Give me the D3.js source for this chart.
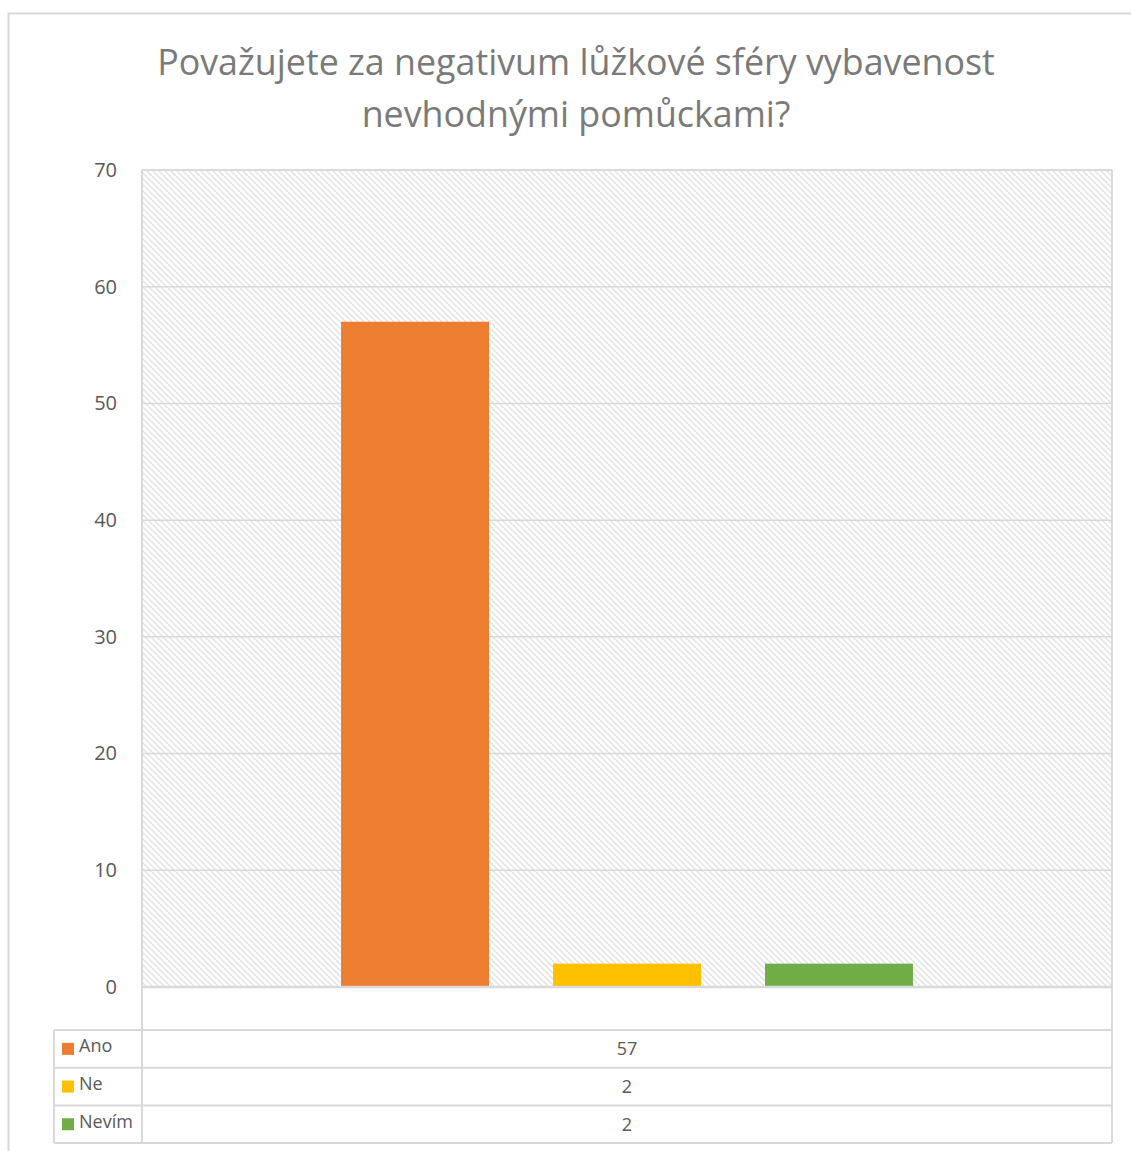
<!DOCTYPE html>
<html>
<head>
<meta charset="utf-8">
<script src="https://cdn.jsdelivr.net/npm/d3@7/dist/d3.min.js"></script>
<style>
  html, body { margin: 0; padding: 0; background: #ffffff; }
  svg { display: block; }
  text { font-family: "Open Sans", "Noto Sans", sans-serif; }
</style>
</head>
<body>
<svg id="chart" width="1131" height="1151"></svg>
<script>
// Survey answers
const titleLines = ["Považujete za negativum lůžkové sféry vybavenost", "nevhodnými pomůckami?"];
const seriesNames = ["Ano", "Ne", "Nevím"];
const seriesValues = [57, 2, 2];
const seriesColors = ["#ED7D31", "#FFC000", "#70AD47"];
const yTicks = [0, 10, 20, 30, 40, 50, 60, 70];

const svg = d3.select("#chart");
const grid = "#d9d9d9";

// plot frame
const plot = { left: 142, right: 1112, top: 170, bottom: 987 };
const table = { left: 54, rowTop: 1030, rowH: 37.7 };

const defs = svg.append("defs");
const pat = defs.append("pattern")
  .attr("id", "hatch")
  .attr("patternUnits", "userSpaceOnUse")
  .attr("width", 6).attr("height", 6);
pat.append("rect").attr("width", 6).attr("height", 6).attr("fill", "#ffffff");
pat.append("path")
  .attr("d", "M0,0 L6,6 M-3,3 L3,9 M3,-3 L9,3")
  .attr("stroke", "#e2e2e2").attr("stroke-width", 1.4);

// outer chart border
svg.append("rect")
  .attr("x", 8.5).attr("y", 13.5)
  .attr("width", 1140).attr("height", 1160)
  .attr("fill", "#ffffff").attr("stroke", grid).attr("stroke-width", 2);

// title
svg.append("g").selectAll("text")
  .data(titleLines).join("text")
  .attr("x", 576).attr("y", (d, i) => 75 + i * 52)
  .attr("text-anchor", "middle")
  .attr("fill", "#7a7a7a")
  .attr("font-size", 35.8)
  .text(d => d);

const y = d3.scaleLinear().domain([0, 70]).range([plot.bottom, plot.top]);
const x = d3.scaleBand().domain(seriesNames)
  .range([plot.left, plot.right])
  .paddingInner(0.302).paddingOuter(0.939);

// hatched plot background
svg.append("rect")
  .attr("x", plot.left).attr("y", plot.top)
  .attr("width", plot.right - plot.left).attr("height", plot.bottom - plot.top)
  .attr("fill", "url(#hatch)");

// gridlines
svg.append("g").selectAll("line")
  .data(yTicks).join("line")
  .attr("x1", plot.left).attr("x2", plot.right)
  .attr("y1", d => y(d)).attr("y2", d => y(d))
  .attr("stroke", grid).attr("stroke-width", 1.5);

// y axis labels
const yAxis = d3.axisLeft(y).tickValues(yTicks).tickSize(0).tickPadding(25);
const ya = svg.append("g").attr("transform", `translate(${plot.left},0)`).call(yAxis);
ya.select(".domain").remove();
ya.selectAll("text")
  .attr("font-family", "'Open Sans', sans-serif")
  .attr("font-size", 20).attr("fill", "#595959");

// bars
svg.append("g").selectAll("rect")
  .data(seriesValues).join("rect")
  .attr("x", (d, i) => x(seriesNames[i]))
  .attr("width", x.bandwidth())
  .attr("y", d => y(d))
  .attr("height", d => y(0) - y(d))
  .attr("fill", (d, i) => seriesColors[i]);

// data table
const rowY = i => table.rowTop + i * table.rowH;
const tg = svg.append("g");
// horizontal rules
tg.append("line").attr("x1", plot.left).attr("x2", plot.right)
  .attr("y1", y(0)).attr("y2", y(0)).attr("stroke", grid).attr("stroke-width", 2.5);
tg.selectAll("line.h").data(d3.range(seriesNames.length + 1)).join("line")
  .attr("class", "h")
  .attr("x1", table.left).attr("x2", plot.right)
  .attr("y1", i => rowY(i)).attr("y2", i => rowY(i))
  .attr("stroke", grid).attr("stroke-width", 2);
// vertical rules
tg.append("line").attr("x1", table.left).attr("x2", table.left)
  .attr("y1", rowY(0)).attr("y2", rowY(3)).attr("stroke", grid).attr("stroke-width", 2);
tg.append("line").attr("x1", plot.left).attr("x2", plot.left)
  .attr("y1", plot.top).attr("y2", rowY(3)).attr("stroke", grid).attr("stroke-width", 2);
tg.append("line").attr("x1", plot.right).attr("x2", plot.right)
  .attr("y1", plot.top).attr("y2", rowY(3)).attr("stroke", grid).attr("stroke-width", 2);
tg.append("line").attr("x1", plot.left).attr("x2", plot.right)
  .attr("y1", plot.top).attr("y2", plot.top).attr("stroke", grid).attr("stroke-width", 1.5);

const rows = tg.selectAll("g.row").data(seriesNames).join("g")
  .attr("class", "row")
  .attr("transform", (d, i) => `translate(0,${rowY(i) + table.rowH / 2})`);
rows.append("rect")
  .attr("x", 62).attr("y", -6).attr("width", 12).attr("height", 12)
  .attr("fill", (d, i) => seriesColors[i]);
rows.append("text")
  .attr("x", 79).attr("y", -3).attr("dy", "0.35em")
  .attr("font-size", 18).attr("fill", "#595959")
  .text(d => d);
rows.append("text")
  .attr("x", x("Ne") + x.bandwidth() / 2).attr("y", 0).attr("dy", "0.35em")
  .attr("text-anchor", "middle")
  .attr("font-size", 18).attr("fill", "#595959")
  .text((d, i) => seriesValues[i]);
</script>
</body>
</html>
